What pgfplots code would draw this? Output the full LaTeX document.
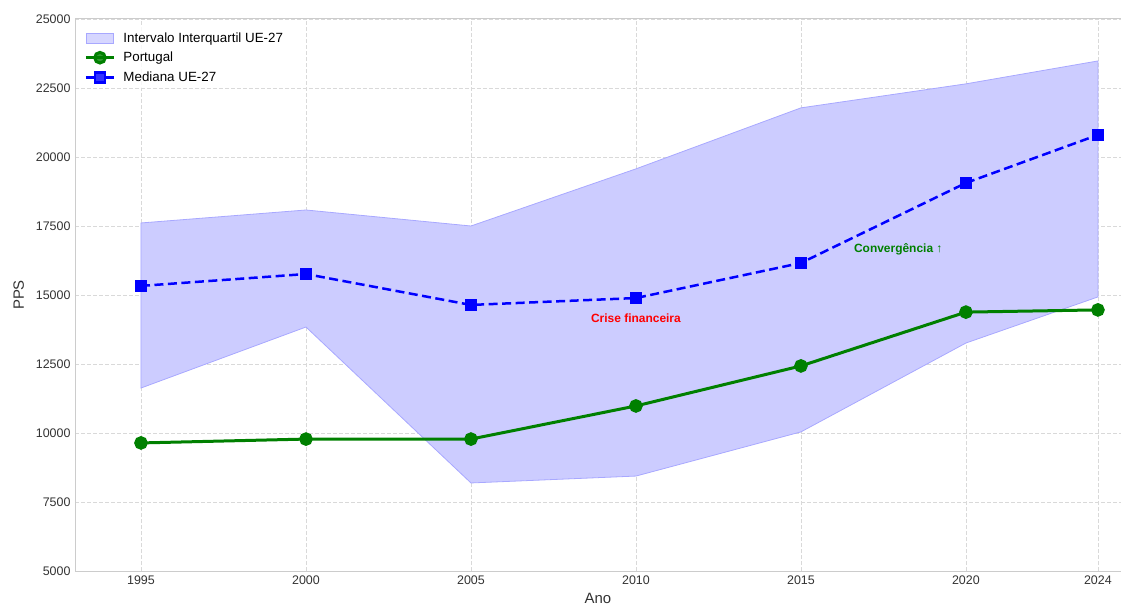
\documentclass[border=0pt]{standalone}
\usepackage{fontspec}
\setmainfont{Liberation Sans}
\usepackage{pgfplots}
\pgfplotsset{compat=1.18}
\usepgfplotslibrary{fillbetween}
\usetikzlibrary{calc}
\definecolor{bandfill}{HTML}{CCCCFF}
\definecolor{bandedge}{HTML}{A8A8FF}
\definecolor{ptgreen}{HTML}{008000}
\definecolor{tickgray}{HTML}{333333}
\pgfplotsset{
  longline legend/.style={legend image code/.code={\draw[##1, mark repeat=2, mark phase=2] plot coordinates {(0bp,0bp) (14bp,0bp) (28bp,0bp)};}},
  dashline legend/.style={legend image code/.code={\draw[##1, dash pattern=on 9.5bp off 9bp, mark repeat=2, mark phase=2] plot coordinates {(0bp,0bp) (14bp,0bp) (28bp,0bp)};}},
  band legend/.style={legend image code/.code={\draw[fill=bandfill, draw=bandedge, line width=0.6bp] (0bp,-5bp) rectangle (27bp,5bp);}},
}
\begin{document}
\begin{tikzpicture}
\begin{axis}[
  name=ax,
  scale only axis,
  width=1046bp, height=552bp,
  xmin=1993, xmax=2024.7,
  ymin=5000, ymax=25000,
  xtick={1995,2000,2005,2010,2015,2020,2024},
  ytick={5000,7500,10000,12500,15000,17500,20000,22500,25000},
  scaled y ticks=false,
  scaled x ticks=false,
  /pgf/number format/assume math mode=true,
  /pgf/number format/set thousands separator={},
  yticklabel={\pgfmathprintnumber[fixed, precision=0, 1000 sep={}, assume math mode=true]{\tick}},
  xticklabel={\pgfmathprintnumber[fixed, precision=0, 1000 sep={}, assume math mode=true]{\tick}},
  tick label style={font=\fontsize{12.5}{14}\selectfont, text=tickgray},
  yticklabel style={xshift=-1bp},
  xticklabel style={yshift=-1bp},
  major tick length=0pt,
  grid=major,
  major grid style={gray!30, dash pattern=on 4bp off 2bp, line width=0.8bp},
  axis line style={gray!40, line width=1bp},
  xlabel={Ano}, ylabel={PPS},
  label style={font=\fontsize{15}{17}\selectfont, text=tickgray},
  xlabel style={yshift=-2bp},
  ylabel style={yshift=5bp},
  legend style={at={(0.006,0.985)}, anchor=north west, draw=none, fill=white, fill opacity=0.8, text opacity=1,
    font=\fontsize{13.4}{15}\selectfont, row sep=4.5bp, inner sep=3bp,
    /tikz/every odd column/.append style={column sep=6bp}},
  legend cell align=left,
  clip=true,
]
\addplot[name path=upper, draw=none, forget plot] coordinates {
 (1995,17610) (2000,18080) (2005,17500) (2010,19570) (2015,21780) (2020,22650) (2024,23480)};
\addplot[name path=lower, draw=none, forget plot] coordinates {
 (1995,11630) (2000,13840) (2005,8190) (2010,8440) (2015,10040) (2020,13260) (2024,14930)};
\addplot[fill=bandfill, draw=bandedge, line width=0.8bp, band legend]
  fill between[of=upper and lower];
\addlegendentry{Intervalo Interquartil UE-27}
\addplot[ptgreen, line width=3bp, mark=*, mark size=5.3bp, mark options={solid, fill=ptgreen}, longline legend] coordinates {
 (1995,9640) (2000,9780) (2005,9780) (2010,10980) (2015,12430) (2020,14380) (2024,14460)};
\addlegendentry{Portugal}
\addplot[blue, line width=2.5bp, dash pattern=on 9bp off 4.5bp, mark=square*, mark size=5bp, mark options={solid, fill=blue}, dashline legend] coordinates {
 (1995,15330) (2000,15760) (2005,14640) (2010,14890) (2015,16160) (2020,19060) (2024,20800)};
\addlegendentry{Mediana UE-27}
\node[text=red, font=\bfseries\fontsize{12}{14}\selectfont] at (axis cs:2010,14170) {Crise financeira};
\node[text=ptgreen, font=\bfseries\fontsize{12}{14}\selectfont] at (axis cs:2017.95,16670) {Convergência ↑};
\end{axis}
\pgfresetboundingbox
\path ($(ax.south west)+(-75bp,-34bp)$) rectangle ($(ax.north east)+(0bp,19bp)$);
\end{tikzpicture}
\end{document}
